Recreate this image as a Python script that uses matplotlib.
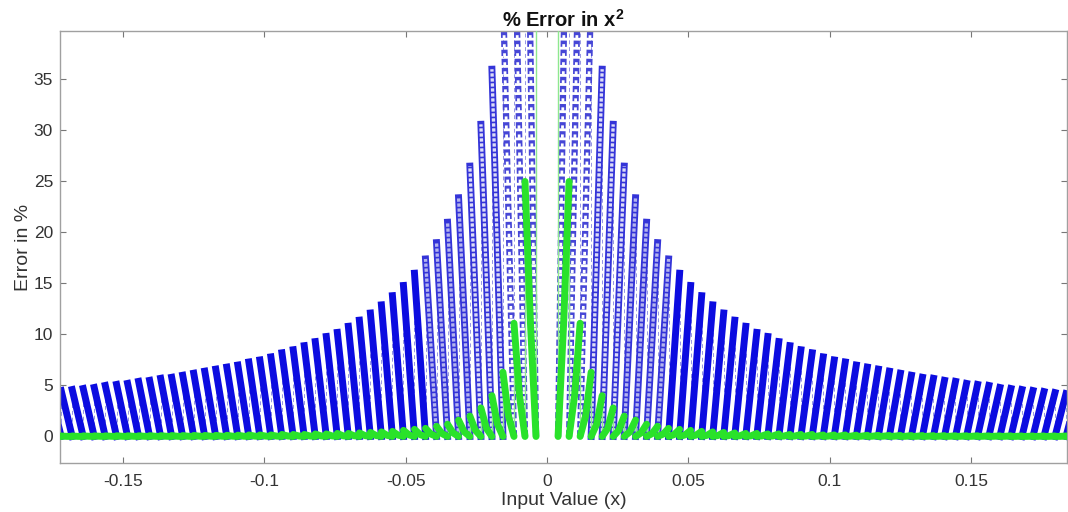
import matplotlib
matplotlib.use("Agg")
import matplotlib.pyplot as plt

# column edges along |x| (quantisation steps), one column between each pair of edges
col_edge = [0.0000, 0.0039, 0.0078, 0.0117, 0.0156, 0.0195, 0.0234, 0.0273, 0.0313, 0.0352,
            0.0391, 0.0430, 0.0469, 0.0508, 0.0547, 0.0586, 0.0625, 0.0664, 0.0703, 0.0742,
            0.0781, 0.0820, 0.0859, 0.0898, 0.0938, 0.0977, 0.1016, 0.1055, 0.1094, 0.1133,
            0.1172, 0.1211, 0.1250, 0.1289, 0.1328, 0.1367, 0.1406, 0.1445, 0.1484, 0.1523,
            0.1563, 0.1602, 0.1641, 0.1680, 0.1719, 0.1758, 0.1797, 0.1836, 0.1875]
# peak error (%) reached at the outer end of each column
blue_peak = [100, 75.0, 55.6, 43.8, 36.0, 30.6, 26.5, 23.4, 21.0, 19.0,
             17.4, 16.0, 14.8, 13.8, 12.9, 12.1, 11.4, 10.8, 10.2, 9.8,
             9.3, 8.9, 8.5, 8.2, 7.8, 7.5, 7.3, 7.0, 6.8, 6.6,
             6.4, 6.2, 6.0, 5.8, 5.7, 5.5, 5.4, 5.2, 5.1, 5.0,
             4.8, 4.7, 4.6, 4.5, 4.4, 4.3, 4.2, 4.1]
green_peak = [100, 25.0, 11.1, 6.3, 4.0, 2.8, 2.0, 1.6, 1.2, 1.0,
              0.8, 0.7, 0.6, 0.5, 0.45, 0.4, 0.35, 0.3, 0.3, 0.25,
              0.25, 0.2, 0.2, 0.2, 0.15, 0.15, 0.15, 0.13, 0.12, 0.11,
              0.1, 0.1, 0.09, 0.09, 0.08, 0.08, 0.07, 0.07, 0.07, 0.06,
              0.06, 0.06, 0.05, 0.05, 0.05, 0.05, 0.05, 0.05]
# green error half-way across each column (the curves bend up late)
green_mid = [100, 11.0, 4.0, 2.0, 1.2, 0.8, 0.6, 0.45, 0.35, 0.28,
             0.23, 0.19, 0.16, 0.14, 0.12, 0.1, 0.09, 0.08, 0.07, 0.06,
             0.06, 0.05, 0.05, 0.05, 0.04, 0.04, 0.04, 0.03, 0.03, 0.03,
             0.03, 0.03, 0.02, 0.02, 0.02, 0.02, 0.02, 0.02, 0.02, 0.02,
             0.02, 0.02, 0.01, 0.01, 0.01, 0.01, 0.01, 0.01]

x_ticks = [-0.15, -0.1, -0.05, 0, 0.05, 0.1, 0.15]
x_tick_labels = ["-0.15", "-0.1", "-0.05", "0", "0.05", "0.1", "0.15"]
y_ticks = [0, 5, 10, 15, 20, 25, 30, 35]

plt.rcParams["font.family"] = ["Liberation Sans", "DejaVu Sans"]
plt.rcParams["mathtext.fontset"] = "custom"
plt.rcParams["mathtext.rm"] = "Liberation Sans"
plt.rcParams["mathtext.bf"] = "Liberation Sans:bold"

BLUE = "#0c0ce0"
GREEN = "#2ae22a"

fig = plt.figure(figsize=(10.68, 5.12), dpi=100)
ax = fig.add_axes([0.0562, 0.0957, 0.943, 0.8438])

for side in (1, -1):
    for k in range(len(blue_peak)):
        lo, hi = side * col_edge[k], side * col_edge[k + 1]
        mid = (lo + hi) / 2
        # drop back to zero at the start of the next step
        ax.plot([hi, hi], [blue_peak[k], 0], color="#5050d0", lw=0.7, ls=(0, (4, 3)), alpha=0.6, zorder=1)
        ax.plot([hi, hi], [green_peak[k], 0], color="#8fe88f", lw=1.0, zorder=3)
        if k == 0:
            continue
        seg_x, seg_y = [lo, hi], [0, blue_peak[k]]
        if k <= 3:
            # sparse open squares right at the centre
            ax.plot(seg_x, seg_y, color="#4646d6", lw=4.5, ls=(0, (1.0, 0.45)), zorder=2)
            ax.plot(seg_x, seg_y, color="white", lw=2.0, ls=(3.0, (1.25, 2.0)), zorder=2.1)
        elif k <= 10:
            # stacked open squares
            ax.plot(seg_x, seg_y, color="#3434d8", lw=5, zorder=2)
            inner = "#dcdcf6" if k <= 6 else "#b4b4ee"
            ax.plot(seg_x, seg_y, color=inner, lw=2.4, ls=(0, (1.0, 0.5)), zorder=2.1)
        else:
            ax.plot(seg_x, seg_y, color=BLUE, lw=5, zorder=2)
        ax.plot([lo, mid, hi], [0, green_mid[k], green_peak[k]], color=GREEN, lw=5,
                solid_capstyle="round", solid_joinstyle="round", zorder=4)

ax.set_xlim(-0.1723, 0.184)
ax.set_ylim(-2.6, 39.75)
ax.set_xticks(x_ticks)
ax.set_xticklabels(x_tick_labels)
ax.set_yticks(y_ticks)
ax.tick_params(direction="in", length=4, width=0.8, color="#777777", labelcolor="#333333",
               labelsize=12.5, top=True, right=True)
ax.tick_params(axis="x", pad=8)
ax.tick_params(axis="y", pad=5)
for s in ax.spines.values():
    s.set_color("#a0a0a0")
    s.set_linewidth(1.0)

ax.set_title(r"% Error in x$^{\mathbf{2}}$", fontweight="bold", fontsize=14.5, pad=3, color="#111111")
ax.set_xlabel("Input Value (x)", fontsize=14, color="#333333", labelpad=2)
ax.set_ylabel("Error in %", fontsize=14, color="#333333", labelpad=1)

fig.savefig("out.png", dpi=100, facecolor="white")
